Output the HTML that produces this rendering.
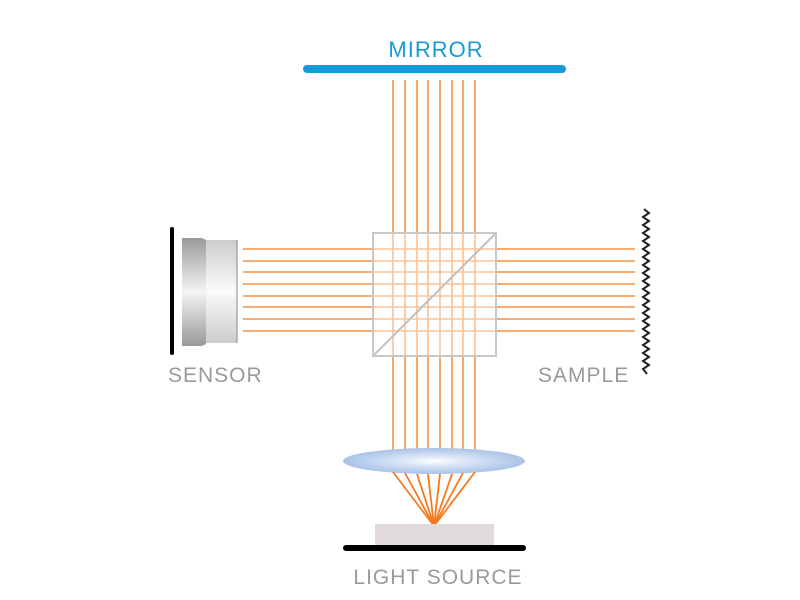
<!DOCTYPE html>
<html><head><style>body{margin:0;background:#fff}svg{display:block}</style></head><body>
<svg width="800" height="600" viewBox="0 0 800 600" xmlns="http://www.w3.org/2000/svg">
<defs>
<linearGradient id="b1" x1="0" y1="0" x2="0" y2="1"><stop offset="0" stop-color="#999"/><stop offset="0.5" stop-color="#f4f4f4"/><stop offset="1" stop-color="#999"/></linearGradient>
<linearGradient id="b2" x1="0" y1="0" x2="0" y2="1"><stop offset="0" stop-color="#ccc"/><stop offset="0.5" stop-color="#fafafa"/><stop offset="1" stop-color="#ccc"/></linearGradient>
<radialGradient id="lens" cx="0.5" cy="0.5" r="0.5"><stop offset="0" stop-color="#ffffff"/><stop offset="0.35" stop-color="#dbe6f6"/><stop offset="1" stop-color="#a9c3e8"/></radialGradient>
</defs>
<text x="436" y="57" font-family="Liberation Sans, sans-serif" font-size="22" fill="#1a9ad6" text-anchor="middle" letter-spacing="1">MIRROR</text>
<line x1="307" y1="69" x2="562" y2="69" stroke="#0f9ad8" stroke-width="8" stroke-linecap="round"/>
<g stroke="#f7913f" stroke-width="1.6">
<line x1="393" y1="80" x2="393" y2="462"/><line x1="405" y1="80" x2="405" y2="462"/><line x1="417" y1="80" x2="417" y2="462"/><line x1="428" y1="80" x2="428" y2="462"/><line x1="440" y1="80" x2="440" y2="462"/><line x1="452" y1="80" x2="452" y2="462"/><line x1="463" y1="80" x2="463" y2="462"/><line x1="475" y1="80" x2="475" y2="462"/>
<line x1="243" y1="249" x2="635" y2="249"/><line x1="243" y1="261" x2="635" y2="261"/><line x1="243" y1="272" x2="635" y2="272"/><line x1="243" y1="284" x2="635" y2="284"/><line x1="243" y1="296" x2="635" y2="296"/><line x1="243" y1="307" x2="635" y2="307"/><line x1="243" y1="319" x2="635" y2="319"/><line x1="243" y1="331" x2="635" y2="331"/>
</g>
<rect x="373" y="233" width="123" height="123" fill="#fff" fill-opacity="0.45" stroke="#c8c8c8" stroke-width="2"/>
<line x1="374" y1="355" x2="495" y2="234" stroke="#c0c0c0" stroke-width="2"/>
<line x1="172" y1="229" x2="172" y2="353" stroke="#000" stroke-width="4" stroke-linecap="round"/>
<path d="M182 238 L202 238 L206 240 L206 344 L202 346 L182 346 Z" fill="url(#b1)"/>
<rect x="206" y="240" width="31" height="103" fill="url(#b2)"/>
<line x1="237" y1="240" x2="237" y2="343" stroke="#888" stroke-width="1"/>
<text x="168" y="382" font-family="Liberation Sans, sans-serif" font-size="21" fill="#9a9a9a" letter-spacing="1">SENSOR</text>
<text x="538" y="382" font-family="Liberation Sans, sans-serif" font-size="21" fill="#9a9a9a" letter-spacing="1">SAMPLE</text>
<polyline fill="none" stroke="#222" stroke-width="2" points="644,209 649,213 643,217 649,221 643,225 649,229 643,233 649,237 643,241 649,245 643,249 649,253 643,257 649,261 643,265 649,269 643,273 649,277 643,281 649,285 643,289 649,293 643,297 649,301 643,305 649,309 643,313 649,317 643,321 649,325 643,329 649,333 643,337 649,341 643,345 649,349 643,353 649,357 643,361 649,365 643,369 647,374"/>
<ellipse cx="434" cy="461" rx="91" ry="13" fill="url(#lens)"/>
<g stroke="#f57a1f" stroke-width="1.8">
<line x1="393" y1="472" x2="434" y2="526"/><line x1="405" y1="473" x2="434" y2="526"/><line x1="417" y1="474" x2="434" y2="526"/><line x1="428" y1="474" x2="434" y2="526"/><line x1="440" y1="474" x2="434" y2="526"/><line x1="452" y1="474" x2="434" y2="526"/><line x1="463" y1="473" x2="434" y2="526"/><line x1="475" y1="472" x2="434" y2="526"/>
</g>
<rect x="375" y="524" width="119" height="21" fill="#e0dadb"/>
<line x1="346" y1="548" x2="523" y2="548" stroke="#000" stroke-width="6" stroke-linecap="round"/>
<text x="438" y="584" font-family="Liberation Sans, sans-serif" font-size="21" fill="#9a9a9a" text-anchor="middle" letter-spacing="1">LIGHT SOURCE</text>
</svg>
</body></html>
